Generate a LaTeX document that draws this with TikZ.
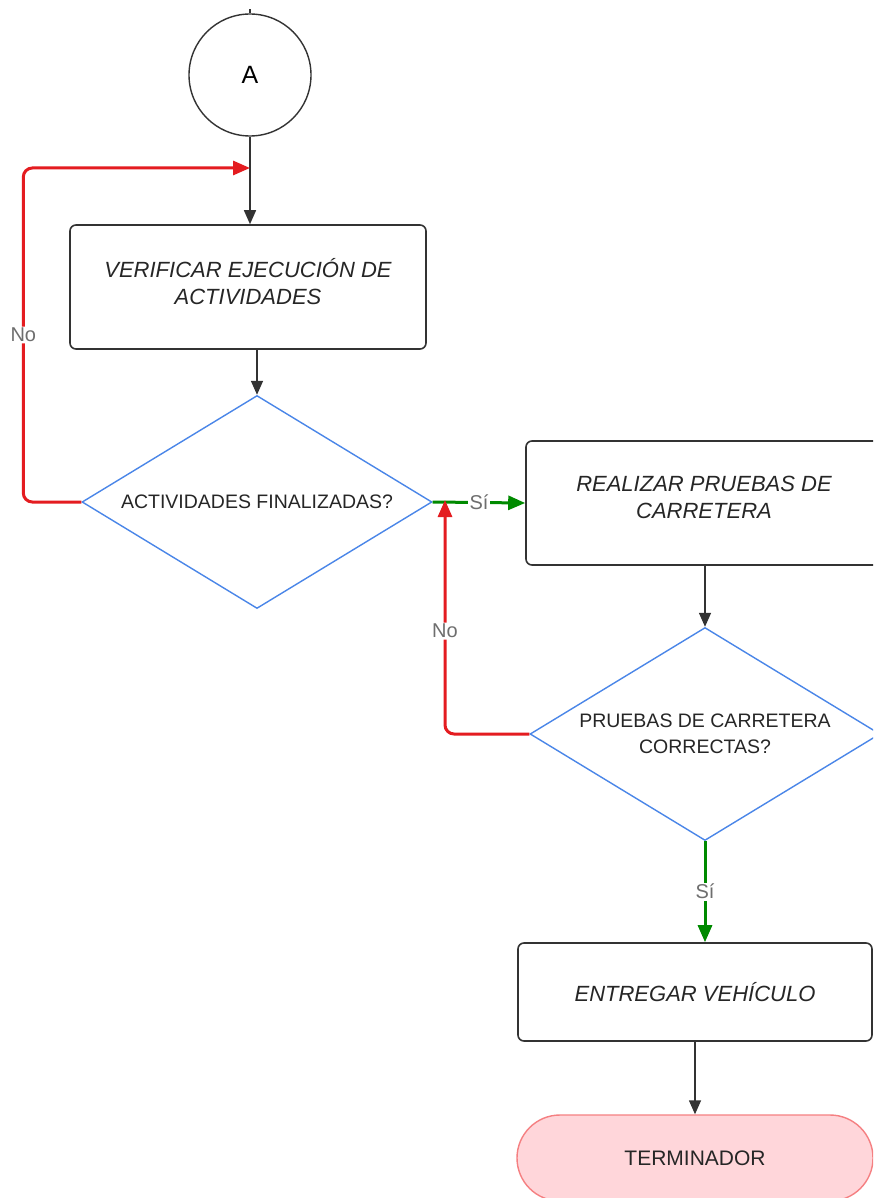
\documentclass[tikz,border=0pt]{standalone}
\usepackage{fontspec}
\setmainfont{Liberation Sans}
\usetikzlibrary{arrows.meta,positioning,shapes.geometric}

\definecolor{lineGray}{RGB}{51,51,51}
\definecolor{noRed}{RGB}{228,28,32}
\definecolor{siGreen}{RGB}{0,138,0}
\definecolor{decBlue}{RGB}{74,134,232}
\definecolor{termFill}{RGB}{255,214,218}
\definecolor{termLine}{RGB}{245,128,130}
\definecolor{labelGray}{RGB}{110,110,110}

\begin{document}
\begin{tikzpicture}[
    x=1pt, y=-1pt,
    proc/.style={draw=lineGray, line width=1.6pt, rounded corners=6pt, fill=white,
        minimum width=356pt, minimum height=124pt, align=center,
        font=\fontsize{22}{27}\selectfont\itshape, text=black!85},
    decis/.style={diamond, draw=decBlue, line width=1.4pt, aspect=1.63, inner sep=0pt,
        minimum width=350pt, minimum height=213pt, align=center,
        font=\fontsize{19.5}{26}\selectfont, text=black!85},
    conn/.style={circle, draw=lineGray, line width=1.4pt, minimum size=122pt,
        font=\fontsize{25}{30}\selectfont},
    term/.style={draw=termLine, line width=1.4pt, fill=termFill, rounded corners=43pt,
        minimum width=356pt, minimum height=86pt, font=\fontsize{21}{26}\selectfont, text=black!85},
    flow/.style={draw=lineGray, line width=1.5pt, -{Triangle[length=14pt,width=12pt]}},
    no/.style={draw=noRed, line width=3pt, rounded corners=9pt, -{Triangle[length=17pt,width=14pt]}},
    si/.style={draw=siGreen, line width=3pt, -{Triangle[length=17pt,width=14pt]}},
    tag/.style={fill=white, text=labelGray, inner sep=1.5pt, font=\fontsize{20}{24}\selectfont}
]

% Page
\clip (0,0) rectangle (873,1198);
\fill[white] (0,0) rectangle (873,1198);

% Shapes
\node[conn] (A) at (250,75) {A};
\node[proc] (verif) at (248,287) {VERIFICAR EJECUCIÓN DE\\ACTIVIDADES\\[-15pt]};
\node[decis] (finish) at (257,502) {ACTIVIDADES FINALIZADAS?};
\node[proc] (tests) at (704,503) {REALIZAR PRUEBAS DE\\CARRETERA\\[-15pt]};
\node[decis] (check) at (705,734) {PRUEBAS DE CARRETERA\\CORRECTAS?};
\node[proc, minimum width=354pt, minimum height=98pt] (deliver) at (695,992) {ENTREGAR VEHÍCULO};
\node[term] (endT) at (695,1158) {TERMINADOR};

% Junction points
\coordinate (merge) at (A.south |- 0,168);
\coordinate (merge2) at (445,500);

% Connectors
\draw[lineGray, line width=1.2pt] (A.north) -- ++(0,-4);
\draw[flow] (A.south) -- (A.south |- verif.north);
\draw[flow] (finish.north |- verif.south) -- (finish.north);
\draw[flow] (check.north |- tests.south) -- (check.north);
\draw[flow] (deliver.south) -- (endT.north);

% Decision branches
\draw[no] (finish.west) -- ++(-58,0) |- (merge) node[tag, pos=0.25] {No};
\draw[si] (finish.east) -- (tests.west) node[tag, midway] {Sí};
\draw[no] (check.west) -| (merge2) node[tag, pos=0.72] {No};
\draw[si] (check.south) -- (check.south |- deliver.north) node[tag, midway] {Sí};

\end{tikzpicture}
\end{document}
